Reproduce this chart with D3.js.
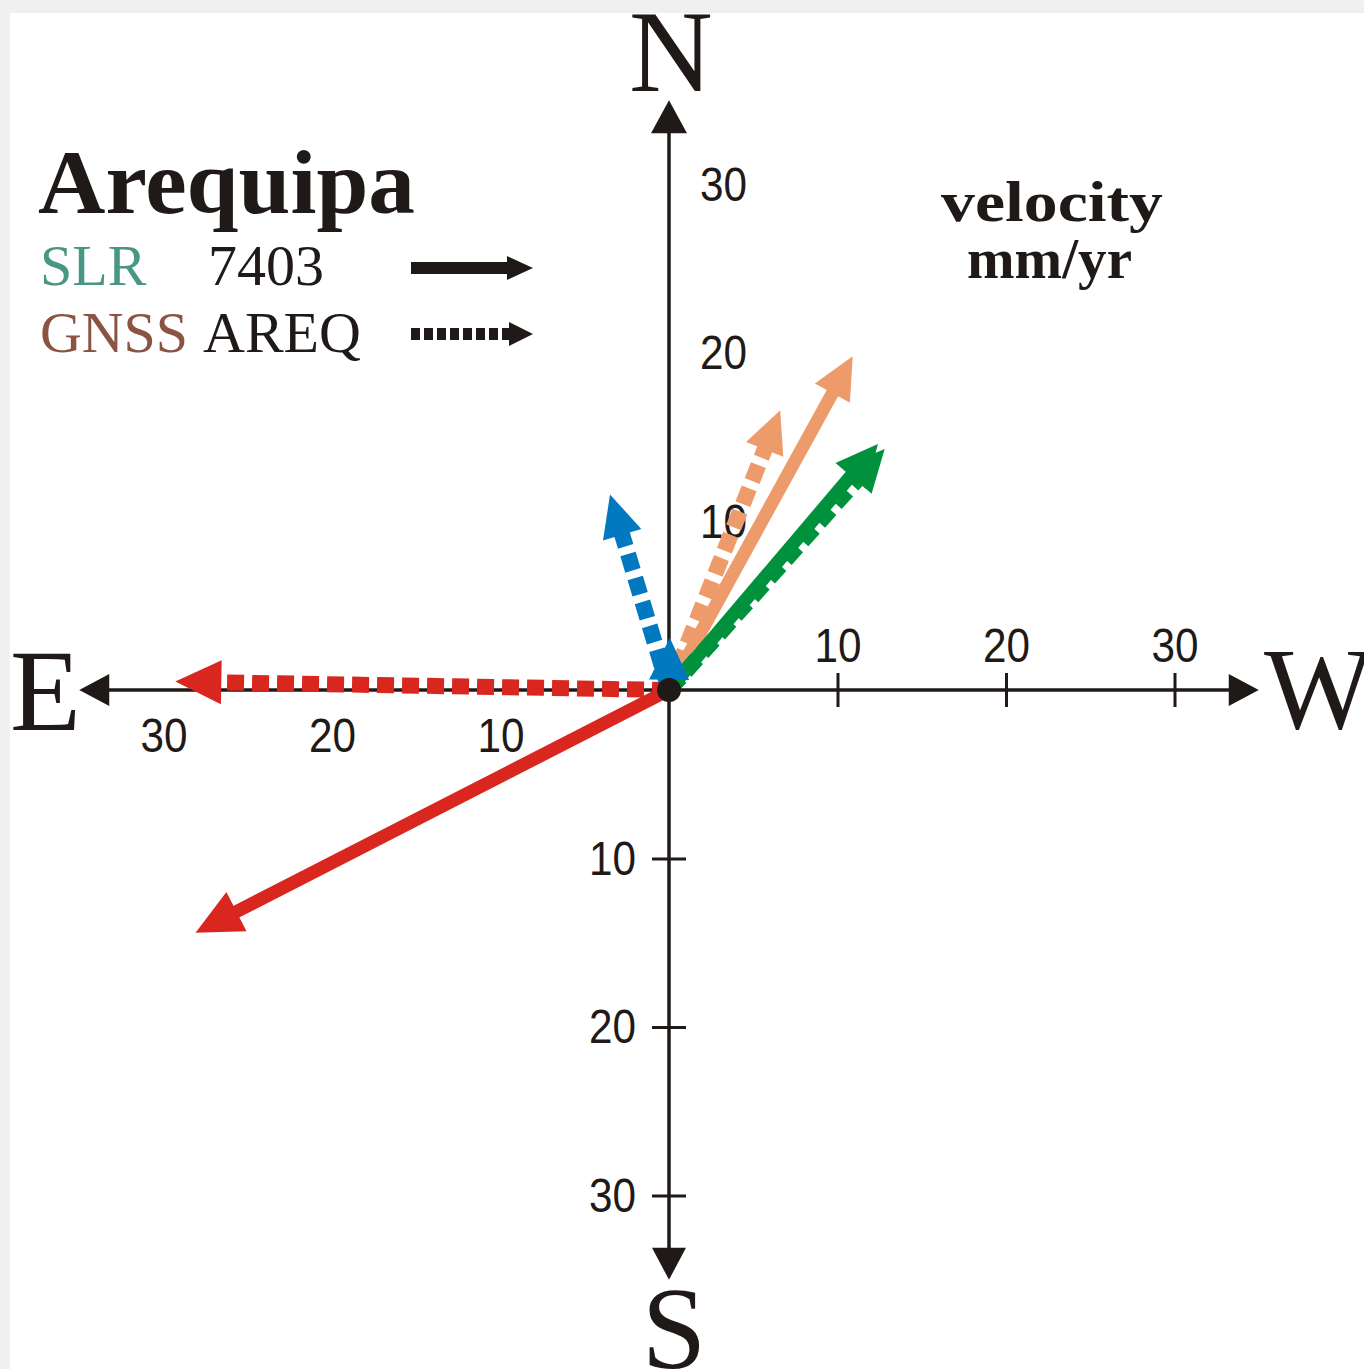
<!DOCTYPE html>
<html>
<head>
<meta charset="utf-8">
<script src="https://cdn.jsdelivr.net/npm/d3@7"></script>
<style>
  html, body { margin: 0; padding: 0; background: #f0f0f0; }
  svg { display: block; }
</style>
</head>
<body>
<svg id="chart" width="1364" height="1369"></svg>
<script>
// velocity vectors, mm/yr (west positive, north positive)
var vecGroup = ["red", "red", "orange", "orange", "green", "green", "blue", "blue"];
var vecTech  = ["GNSS", "SLR", "GNSS", "SLR", "GNSS", "SLR", "GNSS", "SLR"];
var vecWest  = [-29.3, -28.1, 6.6, 10.9, 12.8, 12.4, -3.5, 0.05];
var vecNorth = [0.5, -14.4, 16.6, 19.8, 14.3, 14.6, 11.6, 3.1];

var tickValues = [10, 20, 30];
var axisLimit = 35;

var groupColors = { red: "#d9261e", orange: "#ee9b6c", green: "#00913d", blue: "#0079c1" };
var ink = "#1f1a17";

var svg = d3.select("#chart");

// white page, grey border on top/left like the scan
svg.append("rect").attr("x", 10).attr("y", 13).attr("width", 1354).attr("height", 1356).attr("fill", "#ffffff");

var x = d3.scaleLinear().domain([-axisLimit, axisLimit]).range([669 - axisLimit * 16.85, 669 + axisLimit * 16.85]);
var y = d3.scaleLinear().domain([-axisLimit, axisLimit]).range([690 + axisLimit * 16.85, 690 - axisLimit * 16.85]);

/** draws a straight arrow from (x0,y0) to (x1,y1) */
function arrow(g, x0, y0, x1, y1, color, width, dash, headLen, headHalf) {
  var dx = x1 - x0, dy = y1 - y0;
  var len = Math.sqrt(dx * dx + dy * dy);
  var ux = dx / len, uy = dy / len;
  var bx = x1 - ux * headLen, by = y1 - uy * headLen;
  g.append("line")
    .attr("x1", x0).attr("y1", y0)
    .attr("x2", bx + ux * 2).attr("y2", by + uy * 2)
    .attr("stroke", color)
    .attr("stroke-width", width)
    .attr("stroke-dasharray", dash);
  g.append("path")
    .attr("d", "M" + x1 + "," + y1 +
               "L" + (bx - uy * headHalf) + "," + (by + ux * headHalf) +
               "L" + (bx + uy * headHalf) + "," + (by - ux * headHalf) + "Z")
    .attr("fill", color);
}

// ---- axes ----
var axes = svg.append("g");
arrow(axes, x(0), y(-axisLimit + 1), x(0), y(axisLimit), ink, 3, null, 33, 18);   // N
arrow(axes, x(0), y(axisLimit - 1), x(0), y(-axisLimit), ink, 3, null, 32, 17);   // S
arrow(axes, x(axisLimit - 1), y(0), x(-axisLimit), y(0), ink, 3, null, 30, 16);   // E
arrow(axes, x(-axisLimit + 1), y(0), x(axisLimit), y(0), ink, 3, null, 30, 16);   // W

function styleAxis(sel, crossAttr) {
  sel.select(".domain").remove();
  sel.selectAll(".tick line")
    .attr("stroke", ink)
    .attr("stroke-width", 3)
    .attr(crossAttr, 17);
  sel.selectAll(".tick text")
    .attr("fill", ink)
    .attr("font-family", "'Liberation Sans', Arial, sans-serif")
    .attr("font-size", 49)
    .attr("textLength", 47)
    .attr("lengthAdjust", "spacingAndGlyphs");
}

var absFmt = function(d) { return Math.abs(d); };

svg.append("g").attr("transform", "translate(0," + y(0) + ")")
  .call(d3.axisTop(x).tickValues(tickValues).tickSize(17).tickPadding(11))
  .call(styleAxis, "y1");
svg.append("g").attr("transform", "translate(0," + y(0) + ")")
  .call(d3.axisBottom(x).tickValues(tickValues.map(function(d) { return -d; })).tickFormat(absFmt).tickSize(17).tickPadding(10))
  .call(styleAxis, "y1");
svg.append("g").attr("transform", "translate(" + x(0) + ",0)")
  .call(d3.axisRight(y).tickValues(tickValues).tickSize(17).tickPadding(14))
  .call(styleAxis, "x1");
svg.append("g").attr("transform", "translate(" + x(0) + ",0)")
  .call(d3.axisLeft(y).tickValues(tickValues.map(function(d) { return -d; })).tickFormat(absFmt).tickSize(17).tickPadding(16))
  .call(styleAxis, "x1");

// compass letters
var serif = "'Liberation Serif', 'Times New Roman', serif";
var compass = [
  { t: "N", x: 671, y: 91, a: "middle" },
  { t: "S", x: 674, y: 1368, a: "middle" },
  { t: "E", x: 10, y: 730, a: "start" },
  { t: "W", x: 1264, y: 728, a: "start" }
];
svg.append("g").selectAll("text").data(compass).enter().append("text")
  .attr("x", function(d) { return d.x; })
  .attr("y", function(d) { return d.y; })
  .attr("text-anchor", function(d) { return d.a; })
  .attr("font-family", serif)
  .attr("font-size", 116)
  .attr("fill", ink)
  .text(function(d) { return d.t; });

// ---- velocity vectors ----
var vecs = svg.append("g");
vecGroup.forEach(function(grp, i) {
  var dotted = vecTech[i] === "GNSS";
  arrow(vecs, x(0), y(0), x(vecWest[i]), y(vecNorth[i]),
        groupColors[grp],
        dotted ? 16 : 13,
        dotted ? "17,8" : null,
        grp === "red" ? 46 : 42,
        grp === "red" ? 22 : 20);
});
svg.append("circle").attr("cx", x(0)).attr("cy", y(0)).attr("r", 12).attr("fill", ink);

// ---- title & legend ----
svg.append("text")
  .attr("x", 38).attr("y", 213)
  .attr("font-family", serif).attr("font-weight", "bold").attr("font-size", 92)
  .attr("textLength", 377).attr("lengthAdjust", "spacingAndGlyphs")
  .attr("fill", ink)
  .text("Arequipa");

var legend = svg.append("g").attr("font-family", serif).attr("font-size", 58);
legend.append("text").attr("x", 40).attr("y", 285).attr("fill", "#4a9685").text("SLR");
legend.append("text").attr("x", 208).attr("y", 285).attr("fill", ink).text("7403");
legend.append("text").attr("x", 40).attr("y", 352).attr("fill", "#8a5342")
  .attr("textLength", 148).attr("lengthAdjust", "spacingAndGlyphs").text("GNSS");
legend.append("text").attr("x", 203).attr("y", 352).attr("fill", ink).text("AREQ");

arrow(legend, 411, 268, 533, 268, ink, 12, null, 26, 12);
arrow(legend, 411, 334, 533, 334, ink, 12, "9,4", 24, 12);

var unit = svg.append("g").attr("font-family", serif).attr("font-weight", "bold")
  .attr("font-size", 57).attr("fill", ink);
unit.append("text").attr("x", 941).attr("y", 221)
  .attr("textLength", 222).attr("lengthAdjust", "spacingAndGlyphs").text("velocity");
unit.append("text").attr("x", 967).attr("y", 278)
  .attr("textLength", 165).attr("lengthAdjust", "spacingAndGlyphs").text("mm/yr");
</script>
</body>
</html>
